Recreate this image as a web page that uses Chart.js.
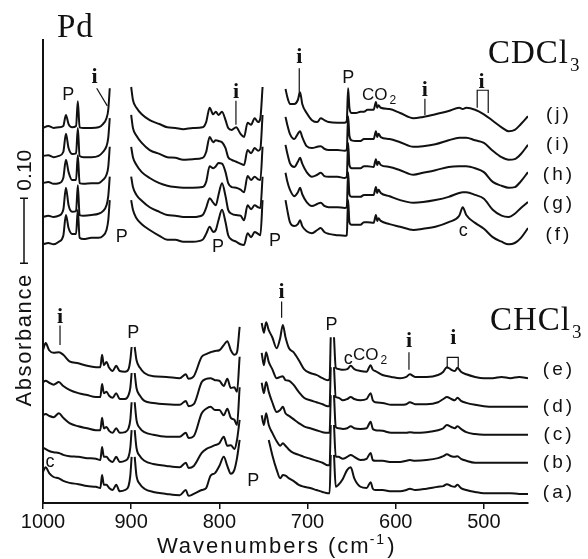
<!DOCTYPE html>
<html><head><meta charset="utf-8">
<script src="https://cdn.jsdelivr.net/npm/chart.js@4.4.0/dist/chart.umd.min.js"></script>
<style>html,body{margin:0;padding:0;background:#fff;}canvas{display:block;}</style>
</head><body>
<canvas id="c" width="588" height="559"></canvas>
<script>
// ---------- data (wavenumber grids, absorbance values; null = solvent window not shown) ----------
const xTicks = [1000, 900, 800, 700, 600, 500];

const wnCDCl3 = [1000,994,988,982,977,974,971,967,962.5,960.5,958.5,954,945,937,932,928,926,924.3, 912,
  900,898,894,888,879,868,859,850,841,830,819,815,811,807,804,801,797,793,790,786,781,776,772,768,764,760,756,753.5,751, 738,
  725,723,720,715,711,708.5,706,701,695,689,685,681,676,666,658,655.5,654,652.5,650,645,640,636,632,625,622.5,621,619.5,617,607,595,580,569,555,540,528,524,520,510,500,490,480,472,465,458,450];

const specJ = [.577,.580,.577,.578,.580,.597,.583,.578,.580,.618,.578,.577,.577,.578,.583,.592,.605,.638, null,
  .640,.620,.608,.598,.589,.583,.578,.577,.575,.577,.578,.586,.608,.598,.602,.597,.602,.589,.577,.574,.578,.568,.563,.585,.582,.592,.586,.592,.640, null,
  .637,.625,.614,.614,.620,.632,.614,.600,.589,.586,.592,.589,.586,.585,.585,.588,.638,.608,.600,.600,.602,.602,.605,.605,.617,.608,.612,.608,.606,.600,.592,.594,.598,.603,.608,.606,.608,.605,.598,.588,.578,.572,.574,.583,.595];
const specI = [.534,.535,.532,.534,.540,.568,.546,.537,.538,.577,.534,.532,.532,.534,.540,.549,.562,.592, null,
  .597,.577,.565,.554,.543,.537,.532,.531,.528,.529,.531,.540,.563,.555,.558,.557,.555,.546,.532,.528,.525,.522,.520,.543,.538,.546,.542,.545,.597, null,
  .594,.582,.568,.560,.568,.572,.563,.549,.546,.548,.549,.545,.543,.543,.542,.543,.595,.565,.558,.557,.557,.560,.560,.560,.572,.563,.568,.563,.560,.555,.548,.549,.552,.558,.562,.562,.562,.558,.554,.542,.532,.528,.529,.537,.551];
const specH = [.492,.494,.491,.492,.500,.528,.509,.497,.497,.535,.492,.491,.492,.492,.497,.505,.517,.548, null,
  .548,.532,.520,.509,.500,.492,.488,.486,.485,.485,.486,.494,.518,.515,.518,.523,.522,.509,.492,.486,.485,.482,.478,.503,.497,.502,.498,.497,.548, null,
  .551,.538,.523,.517,.525,.531,.522,.509,.502,.505,.508,.503,.502,.502,.500,.502,.554,.520,.515,.515,.515,.518,.518,.517,.529,.520,.525,.520,.517,.512,.505,.508,.512,.517,.518,.518,.518,.515,.509,.494,.488,.485,.486,.495,.509];
const specG = [.440,.442,.440,.442,.451,.485,.458,.448,.449,.489,.443,.442,.443,.445,.449,.458,.472,.502, null,
  .502,.486,.474,.465,.455,.448,.443,.442,.440,.440,.443,.454,.469,.462,.458,.474,.492,.472,.451,.445,.443,.442,.435,.458,.452,.458,.455,.454,.502, null,
  .508,.495,.482,.472,.478,.485,.475,.463,.457,.460,.462,.457,.455,.455,.454,.455,.509,.475,.471,.471,.471,.474,.474,.474,.486,.477,.482,.477,.472,.466,.462,.463,.466,.471,.477,.478,.478,.474,.468,.451,.442,.440,.445,.454,.463];
const specF = [.398,.400,.398,.402,.411,.443,.423,.414,.414,.451,.408,.406,.408,.408,.411,.420,.435,.466, null,
  .466,.451,.438,.429,.420,.411,.405,.405,.402,.402,.405,.414,.425,.417,.420,.435,.451,.432,.412,.405,.402,.398,.397,.415,.409,.417,.414,.412,.466, null,
  .466,.451,.432,.426,.429,.435,.426,.418,.415,.420,.423,.417,.414,.412,.411,.412,.466,.432,.428,.428,.428,.432,.432,.431,.443,.434,.438,.434,.429,.425,.420,.422,.425,.432,.442,.455,.443,.431,.422,.409,.402,.398,.400,.408,.423];

const wnCHCl3 = [1000,997,993,988,982,977,970,960,950,940,935,933,931,928,925,921,917,913,907,903,901,899.5, 898,
  896,894,890,885,875,860,845,838,835,829,820,815,810,805,800,795,791,787,783,780,777, 765,
  752,749.5,747,744,740,735,731,728,725,721,716,710,704,697,690,683,677,675,673.7, 672,
  670,668,665,660,655,651,647,640,633,628.5,626,623,615,605,595,588,584,578,565,552,546,542,537,533,530,526,520,510,500,490,480,470,460,450];

const specE = [.235,.246,.235,.231,.232,.228,.218,.215,.211,.209,.209,.228,.212,.217,.208,.203,.211,.203,.202,.206,.220,.240, null,
  .240,.220,.208,.200,.195,.194,.192,.198,.191,.195,.225,.229,.232,.234,.235,.243,.249,.235,.228,.232,.271, null,
  .277,.262,.278,.266,.255,.238,.254,.274,.255,.238,.232,.220,.206,.200,.197,.192,.189,.191,.255, null,
  .255,.208,.206,.205,.206,.211,.206,.203,.202,.212,.205,.203,.197,.194,.192,.194,.198,.194,.194,.197,.202,.209,.205,.203,.208,.202,.198,.194,.192,.192,.194,.192,.194,.192];
const specD = [.186,.188,.185,.182,.186,.180,.174,.169,.166,.163,.163,.183,.169,.171,.165,.162,.169,.160,.160,.166,.177,.200, null,
  .200,.177,.165,.157,.154,.152,.151,.157,.149,.152,.186,.191,.192,.189,.188,.180,.191,.177,.178,.171,.225, null,
  .231,.212,.232,.217,.206,.192,.194,.195,.189,.188,.182,.171,.162,.158,.155,.152,.149,.149,.209, null,
  .209,.163,.162,.158,.160,.163,.160,.158,.160,.169,.158,.155,.154,.151,.151,.152,.155,.152,.152,.155,.160,.163,.160,.158,.162,.157,.154,.151,.149,.148,.148,.148,.148,.148];
const specC = [.135,.137,.134,.132,.138,.131,.123,.118,.115,.112,.112,.131,.115,.117,.111,.108,.115,.108,.109,.115,.128,.155, null,
  .155,.128,.115,.109,.105,.102,.102,.108,.100,.103,.138,.145,.148,.143,.143,.135,.145,.131,.128,.120,.178, null,
  .185,.169,.186,.171,.155,.140,.143,.148,.138,.134,.129,.123,.118,.115,.112,.109,.108,.108,.166, null,
  .166,.117,.115,.114,.115,.118,.115,.114,.115,.125,.114,.112,.111,.108,.108,.108,.109,.108,.109,.112,.115,.120,.117,.115,.118,.114,.109,.106,.105,.105,.105,.105,.105,.105];
const specB = [.085,.083,.080,.078,.077,.074,.072,.071,.069,.068,.066,.086,.071,.071,.066,.063,.071,.063,.065,.071,.085,.112, null,
  .112,.085,.072,.065,.060,.057,.055,.062,.054,.057,.077,.083,.086,.089,.092,.102,.088,.089,.083,.097,.128, null,
  .135,.120,.138,.120,.108,.095,.088,.092,.088,.082,.077,.074,.071,.068,.065,.062,.058,.058,.120, null,
  .120,.071,.071,.068,.071,.074,.071,.066,.068,.077,.066,.065,.065,.063,.063,.065,.066,.065,.066,.069,.072,.075,.072,.071,.072,.068,.065,.062,.062,.062,.062,.062,.062,.062];
const specA = [.048,.055,.046,.040,.038,.034,.031,.029,.026,.025,.023,.043,.028,.028,.023,.020,.028,.018,.020,.026,.042,.071, null,
  .071,.042,.029,.022,.017,.014,.012,.020,.011,.014,.020,.023,.042,.046,.057,.071,.057,.045,.051,.069,.097, null,
  null,null,null,.097,.074,.051,.038,.043,.042,.038,.034,.028,.025,.023,.020,.017,.015,.015,.074, null,
  .074,.025,.028,.037,.051,.055,.038,.025,.023,.032,.022,.020,.020,.018,.018,.020,.022,.020,.022,.025,.026,.029,.026,.025,.028,.023,.020,.017,.015,.015,.015,.015,.014,.014];

// series labels
const namesCDCl3 = ['(j)', '(i)', '(h)', '(g)', '(f)'];
const nameYCDCl3 = [.597, .551, .505, .460, .412];
const namesCHCl3 = ['(e)', '(d)', '(c)', '(b)', '(a)'];
const nameYCHCl3 = [.205, .148, .105, .062, .015];
const nameX = 416;

// annotation anchors [wavenumber, absorbance]
const pMarks = [[971.3,.628],[910.8,.409],[801.6,.394],[736.9,.403],[653.9,.654],[897.6,.262],[761.6,.034],[672.7,.274]];
const cMarks = [[523.4,.418],[992.1,.063],[653.9,.222]];
const coMarks = [[638.3,.620],[648.5,.220]];
const iMarks = [
  {at:[941.6,.646], path:[[939.1,.638],[927.1,.611]]},
  {at:[781.2,.623], path:[[781.2,.619],[781.2,.582]]},
  {at:[709.4,.677], path:[[709.4,.669],[709.4,.625]]},
  {at:[566.9,.626], path:[[566.9,.622],[566.9,.597]]},
  {at:[502.6,.638], path:[[507.6,.608],[507.6,.635],[495.1,.635],[495.1,.600]]},
  {at:[980.7,.277], path:[[980.7,.273],[980.7,.243]]},
  {at:[729.4,.315], path:[[729.4,.310],[729.4,.285]]},
  {at:[585.0,.240], path:[[585.0,.232],[585.0,.205]]},
  {at:[534.8,.245], path:[[541.6,.207],[541.6,.224],[529.1,.224],[529.1,.208]]}
];
const solventNames = [['CDCl', '3', 495.5, .677], ['CHCl', '3', 493.2, .266]];
const metalName = ['Pd', 984.1, .717];
const scaleBar = [.369, 0.10];   // bottom of bar, length (absorbance)

// ---------- chart ----------
const SANS = '"Liberation Sans", Arial, Helvetica, sans-serif';
const SERIF = '"Liberation Serif", "Times New Roman", serif';
const INK = '#111';

function mk(grid, vals) {
  return { data: grid.map((x, i) => ({ x: x, y: vals[i] })), borderColor: INK, borderWidth: 2,
           pointRadius: 0, fill: false, spanGaps: false, cubicInterpolationMode: 'monotone' };
}

const annot = {
  id: 'annot',
  afterDraw(chart) {
    const ctx = chart.ctx, ca = chart.chartArea;
    const xs = chart.scales.x, ys = chart.scales.y;
    const X = v => xs.getPixelForValue(v), Y = v => ys.getPixelForValue(v);
    ctx.save();
    ctx.fillStyle = INK; ctx.strokeStyle = INK;
    // P and c labels
    ctx.textAlign = 'center'; ctx.textBaseline = 'middle';
    ctx.font = '18px ' + SANS;
    pMarks.forEach(([w, a]) => ctx.fillText('P', X(w), Y(a)));
    cMarks.forEach(([w, a]) => ctx.fillText('c', X(w), Y(a)));
    // CO2
    ctx.textAlign = 'left'; ctx.textBaseline = 'alphabetic';
    coMarks.forEach(([w, a]) => {
      ctx.font = '17px ' + SANS;
      const x0 = X(w), y0 = Y(a);
      ctx.fillText('CO', x0, y0);
      const wd = ctx.measureText('CO').width;
      ctx.font = '12px ' + SANS;
      ctx.fillText('2', x0 + wd + 2, y0 + 4);
    });
    // i markers
    ctx.lineWidth = 1.2;
    iMarks.forEach(m => {
      ctx.font = 'bold 22px ' + SERIF; ctx.textAlign = 'center';
      ctx.fillText('i', X(m.at[0]), Y(m.at[1]));
      ctx.beginPath();
      m.path.forEach(([w, a], k) => k ? ctx.lineTo(X(w), Y(a)) : ctx.moveTo(X(w), Y(a)));
      ctx.stroke();
    });
    // series names
    ctx.font = '19px ' + SANS; ctx.textAlign = 'center'; ctx.textBaseline = 'middle';
    try { ctx.letterSpacing = '3px'; } catch (e) {}
    namesCDCl3.forEach((t, k) => ctx.fillText(t, X(nameX) + 1, Y(nameYCDCl3[k])));
    namesCHCl3.forEach((t, k) => ctx.fillText(t, X(nameX) + 1, Y(nameYCHCl3[k])));
    // solvent names
    ctx.textAlign = 'left'; ctx.textBaseline = 'alphabetic';
    try { ctx.letterSpacing = '1px'; } catch (e) {}
    solventNames.forEach(([t, s, w, a]) => {
      ctx.font = '33px ' + SERIF;
      const x0 = X(w), y0 = Y(a);
      ctx.fillText(t, x0, y0);
      const wd = ctx.measureText(t).width;
      ctx.font = '19px ' + SERIF;
      ctx.fillText(s, x0 + wd + 1, y0 + 8);
    });
    ctx.font = '33px ' + SERIF;
    ctx.fillText(metalName[0], X(metalName[1]), Y(metalName[2]));
    try { ctx.letterSpacing = '0px'; } catch (e) {}
    // scale bar
    const bx = ca.left - 19, yb = Y(scaleBar[0]), yt = Y(scaleBar[0] + scaleBar[1]);
    ctx.lineWidth = 1.5;
    ctx.beginPath();
    ctx.moveTo(bx, yb); ctx.lineTo(bx, yt);
    ctx.moveTo(bx - 4, yb); ctx.lineTo(bx + 4, yb);
    ctx.moveTo(bx - 4, yt); ctx.lineTo(bx + 4, yt);
    ctx.stroke();
    ctx.save();
    ctx.translate(bx + 1, Y(.512)); ctx.rotate(-Math.PI / 2);
    ctx.font = '21px ' + SANS; ctx.textAlign = 'center'; ctx.textBaseline = 'middle';
    ctx.fillText(scaleBar[1].toFixed(2), 0, 0);
    ctx.restore();
    // y title
    ctx.save();
    ctx.translate(ca.left - 18, Y(.251)); ctx.rotate(-Math.PI / 2);
    ctx.font = '22px ' + SANS; ctx.textAlign = 'center'; ctx.textBaseline = 'middle';
    try { ctx.letterSpacing = '1.6px'; } catch (e) {}
    ctx.fillText('Absorbance', 0, 0);
    ctx.restore();
    // x title with superscript
    try { ctx.letterSpacing = '2px'; } catch (e) {}
    ctx.textAlign = 'left'; ctx.textBaseline = 'alphabetic';
    ctx.font = '22px ' + SANS;
    const t1 = 'Wavenumbers (cm', t3 = ')';
    const w1 = ctx.measureText(t1).width, w3 = ctx.measureText(t3).width;
    ctx.font = '14px ' + SANS;
    const w2 = ctx.measureText('-1').width;
    const total = w1 + w2 + w3;
    const cx = X(735), by = ca.bottom + 50;
    let x0 = cx - total / 2;
    ctx.font = '22px ' + SANS; ctx.fillText(t1, x0, by);
    ctx.font = '14px ' + SANS; ctx.fillText('-1', x0 + w1 - 1, by - 9);
    ctx.font = '22px ' + SANS; ctx.fillText(t3, x0 + w1 + w2, by);
    ctx.restore();
  }
};

new Chart(document.getElementById('c'), {
  type: 'line',
  data: { datasets: [
    mk(wnCDCl3, specJ), mk(wnCDCl3, specI), mk(wnCDCl3, specH), mk(wnCDCl3, specG), mk(wnCDCl3, specF),
    mk(wnCHCl3, specE), mk(wnCHCl3, specD), mk(wnCHCl3, specC), mk(wnCHCl3, specB), mk(wnCHCl3, specA)
  ] },
  options: {
    responsive: false, animation: false, devicePixelRatio: 1,
    layout: { padding: { top: 40, right: 60, left: 0, bottom: 0 } },
    plugins: { legend: { display: false }, tooltip: { enabled: false } },
    scales: {
      x: {
        type: 'linear', reverse: true, min: 450, max: 1000,
        afterBuildTicks: s => { s.ticks = xTicks.map(v => ({ value: v })); },
        afterFit: s => { s.height = 56; },
        grid: { display: true, drawOnChartArea: false, drawTicks: true, tickLength: 6, color: INK, lineWidth: 1.5 },
        border: { display: true, color: INK, width: 2 },
        ticks: { color: INK, font: { family: SANS, size: 20 }, padding: 1, maxRotation: 0, autoSkip: false,
                 callback: v => String(v) }
      },
      y: {
        min: 0, max: 0.7123,
        afterFit: s => { s.width = 43; },
        ticks: { display: false },
        grid: { display: false },
        border: { display: true, color: INK, width: 2 }
      }
    }
  },
  plugins: [annot]
});
</script>
</body></html>
